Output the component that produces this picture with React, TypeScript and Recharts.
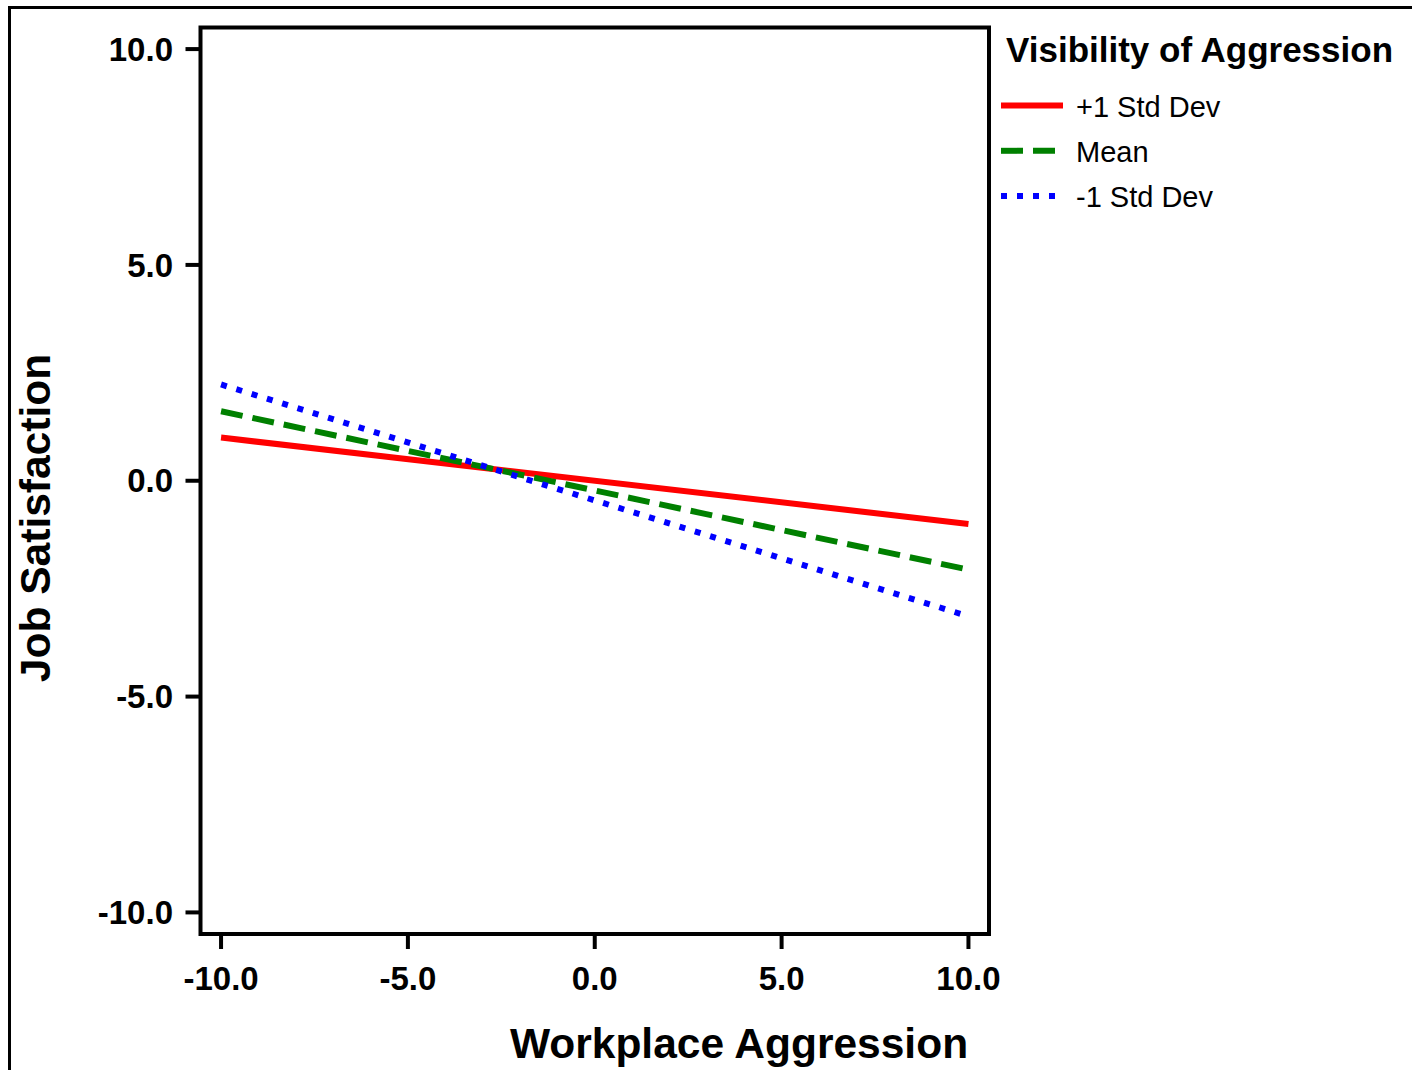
import { LineChart, Line, XAxis, YAxis, ReferenceArea } from 'recharts'

const xValues = [-10, 10]
const plusSdValues = [1.0, -1.0]
const meanValues = [1.61, -2.06]
const minusSdValues = [2.23, -3.14]
const tickValues = [-10, -5, 0, 5, 10]

const seriesKeys = ['plus', 'mean', 'minus']
const seriesNames = ['+1 Std Dev', 'Mean', '-1 Std Dev']
const seriesColors = ['#ff0000', '#008000', '#0000ff']
const seriesDashes: (string | undefined)[] = [undefined, '22 10', '6 10']

const data = xValues.map((x, i) => ({
  x,
  plus: plusSdValues[i],
  mean: meanValues[i],
  minus: minusSdValues[i]
}))

const font = '"Liberation Sans", Arial, sans-serif'
const tickStyle = { fill: '#000', fontSize: 33, fontWeight: 700, fontFamily: font }
const fmt = (v: number) => v.toFixed(1)

const Overlay = () => (
  <svg width={1412} height={1070} style={{ position: 'absolute', left: 0, top: 0, pointerEvents: 'none' }}>
    <text x={739} y={1058} textAnchor="middle" fontFamily={font} fontWeight={700} fontSize={42.5} fill="#000">
      Workplace Aggression
    </text>
    <text
      x={50}
      y={518}
      textAnchor="middle"
      transform="rotate(-90, 50, 518)"
      fontFamily={font}
      fontWeight={700}
      fontSize={42.5}
      fill="#000"
    >
      Job Satisfaction
    </text>
    <text x={1006} y={62} fontFamily={font} fontWeight={700} fontSize={35} fill="#000">
      Visibility of Aggression
    </text>
    {seriesNames.map((name, i) => {
      const cy = 105.5 + i * 45.3
      return (
        <g key={name}>
          <line
            x1={1001}
            x2={1063}
            y1={cy}
            y2={cy}
            stroke={seriesColors[i]}
            strokeWidth={6}
            strokeDasharray={seriesDashes[i]}
          />
          <text x={1076} y={cy + 11} fontFamily={font} fontSize={29} fill="#000">
            {name}
          </text>
        </g>
      )
    })}
  </svg>
)

export default function App() {
  return (
    <div style={{ position: 'absolute', left: 0, top: 0, width: 1412, height: 1070, overflow: 'hidden', background: '#fff' }}>
      <div
        style={{ position: 'absolute', left: 8, top: 6, width: 1500, height: 1200, border: '3px solid #000' }}
      />
      <div style={{ position: 'absolute', left: 0, top: 0 }}>
        <LineChart width={1412} height={1070} data={data} margin={{ top: 27.5, right: 423, bottom: 16, left: 0 }}>
          <XAxis
            dataKey="x"
            type="number"
            domain={[-10.55, 10.55]}
            ticks={tickValues}
            allowDataOverflow
            tickFormatter={fmt}
            axisLine={false}
            tickLine={{ stroke: '#000', strokeWidth: 4 }}
            tickSize={15}
            tickMargin={17.6}
            height={120}
            tick={tickStyle}
            interval={0}
          />
          <YAxis
            type="number"
            domain={[-10.5, 10.5]}
            ticks={tickValues}
            allowDataOverflow
            tickFormatter={fmt}
            axisLine={false}
            tickLine={{ stroke: '#000', strokeWidth: 4 }}
            tickSize={15}
            tickMargin={12.5}
            width={200.5}
            tick={tickStyle}
            interval={0}
          />
          <ReferenceArea
            x1={-10.55}
            x2={10.55}
            y1={-10.5}
            y2={10.5}
            fill="#fff"
            fillOpacity={0}
            stroke="#000"
            strokeWidth={4}
          />
          {seriesKeys.map((key, i) => (
            <Line
              key={key}
              type="linear"
              dataKey={key}
              name={seriesNames[i]}
              stroke={seriesColors[i]}
              strokeWidth={6}
              strokeDasharray={seriesDashes[i]}
              strokeLinecap="butt"
              dot={false}
              activeDot={false}
              isAnimationActive={false}
            />
          ))}
        </LineChart>
      </div>
      <Overlay />
    </div>
  )
}
